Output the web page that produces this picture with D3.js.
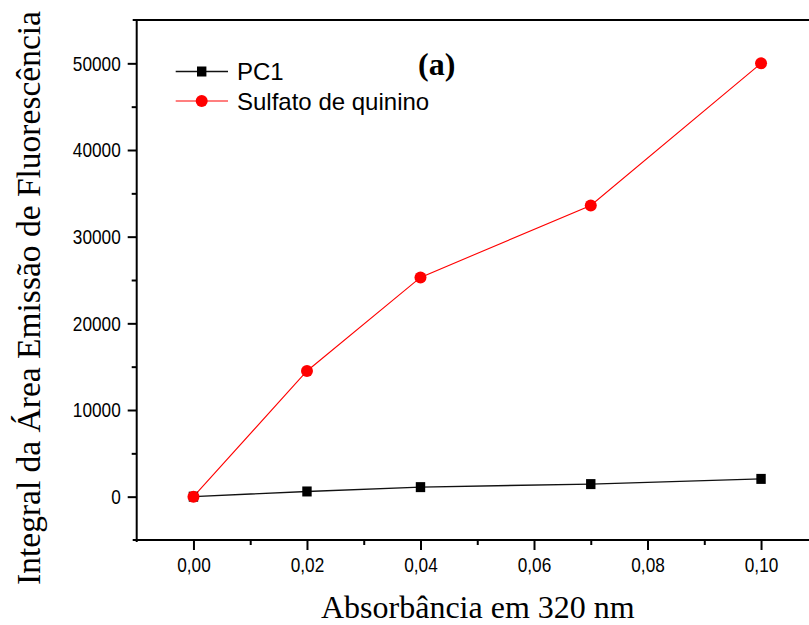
<!DOCTYPE html>
<html>
<head>
<meta charset="utf-8">
<script src="https://cdn.jsdelivr.net/npm/d3@7"></script>
<style>
  html, body { margin: 0; padding: 0; background: #fff; }
  svg { display: block; }
</style>
</head>
<body>
<svg id="chart" width="809" height="625"></svg>
<script>
// ---- data ----
const absorbance = [0, 0.02, 0.04, 0.07, 0.10];
const pc1 = [0, 600, 1100, 1450, 2050];
const sulfato = [0, 14500, 25300, 33600, 50000];
const seriesNames = ["PC1", "Sulfato de quinino"];
const xTicks = [0, 0.02, 0.04, 0.06, 0.08, 0.10];
const xMinorTicks = [0.01, 0.03, 0.05, 0.07, 0.09];
const yTicks = [0, 10000, 20000, 30000, 40000, 50000];
const yMinorTicks = [5000, 15000, 25000, 35000, 45000];
const xTitle = "Absorbância em 320 nm";
const yTitle = "Integral da Área Emissão de Fluorescência";
const panelLabel = "(a)";

// ---- layout ----
const svg = d3.select("#chart");
const pLeft = 136.7, pRight = 817.8, pTop = 20, pBottom = 540;
const x = d3.scaleLinear().domain([-0.01, 0.11]).range([pLeft, pRight]);
const y = d3.scaleLinear().domain([-5000, 55000]).range([pBottom, pTop]);
const sans = "'Liberation Sans', Arial, sans-serif";
const serif = "'Liberation Serif', 'Times New Roman', serif";
const squeeze = 0.82; // tick labels appear horizontally condensed

// axes
const fmtX = v => d3.format(".2f")(v).replace(".", ",");
const xAxis = d3.axisBottom(x).tickValues(xTicks).tickFormat(fmtX).tickSize(10).tickPadding(7);
const xMinor = d3.axisBottom(x).tickValues(xMinorTicks).tickFormat("").tickSize(5);
const yAxis = d3.axisLeft(y).tickValues(yTicks).tickFormat(d3.format("d")).tickSize(9).tickPadding(7);
const yMinor = d3.axisLeft(y).tickValues(yMinorTicks).tickFormat("").tickSize(5);

function styleAxis(g) {
  g.select(".domain").remove();
  g.selectAll(".tick line").attr("stroke", "#000").attr("stroke-width", 2);
  g.selectAll(".tick text").attr("fill", "#000").style("font-family", sans).style("font-size", "21px")
    .attr("transform", `scale(${squeeze},1)`);
}
svg.append("g").attr("transform", `translate(0,${pBottom})`).call(xAxis).call(styleAxis);
svg.append("g").attr("transform", `translate(0,${pBottom})`).call(xMinor).call(styleAxis);
const gy = svg.append("g").attr("transform", `translate(${pLeft},0)`).call(yAxis).call(styleAxis);
gy.selectAll(".tick text").attr("x", -16 / squeeze);
svg.append("g").attr("transform", `translate(${pLeft},0)`).call(yMinor).call(styleAxis);

// frame lines
svg.append("line").attr("x1", pLeft - 4).attr("x2", 809).attr("y1", pBottom).attr("y2", pBottom)
  .attr("stroke", "#000").attr("stroke-width", 2);
svg.append("line").attr("x1", pLeft - 4).attr("x2", 809).attr("y1", pTop).attr("y2", pTop)
  .attr("stroke", "#000").attr("stroke-width", 2);
svg.append("line").attr("x1", pLeft).attr("x2", pLeft).attr("y1", pTop - 1).attr("y2", pBottom + 2)
  .attr("stroke", "#000").attr("stroke-width", 2);

// series
const pc1Data = absorbance.map((a, i) => [a, pc1[i]]);
const sulfData = absorbance.map((a, i) => [a, sulfato[i]]);
const line = d3.line().x(d => x(d[0])).y(d => y(d[1]));

svg.append("path").datum(pc1Data).attr("d", line).attr("fill", "none")
  .attr("stroke", "#111").attr("stroke-width", 1.4);
svg.append("path").datum(sulfData).attr("d", line).attr("fill", "none")
  .attr("stroke", "#ff0000").attr("stroke-width", 1.1);

svg.append("g").selectAll("rect").data(pc1Data).join("rect")
  .attr("x", d => x(d[0]) - 4.7).attr("y", d => y(d[1]) - 5)
  .attr("width", 9.4).attr("height", 10).attr("fill", "#000");
svg.append("g").selectAll("circle").data(sulfData).join("circle")
  .attr("cx", d => x(d[0])).attr("cy", d => y(d[1])).attr("r", 6).attr("fill", "#ff0000");

// legend
const legend = svg.append("g");
const legY = [71.5, 101];
legend.append("line").attr("x1", 175.7).attr("x2", 228).attr("y1", legY[0]).attr("y2", legY[0])
  .attr("stroke", "#111").attr("stroke-width", 1.4);
legend.append("rect").attr("x", 201.7 - 4.7).attr("y", legY[0] - 5).attr("width", 9.4).attr("height", 10).attr("fill", "#000");
legend.append("line").attr("x1", 175.7).attr("x2", 228).attr("y1", legY[1]).attr("y2", legY[1])
  .attr("stroke", "#ff0000").attr("stroke-width", 1.1);
legend.append("circle").attr("cx", 201.7).attr("cy", legY[1]).attr("r", 6).attr("fill", "#ff0000");
legend.selectAll("text").data(seriesNames).join("text")
  .attr("x", 237).attr("y", (d, i) => legY[i] + 8.5)
  .style("font-family", sans).style("font-size", "24px").attr("fill", "#000")
  .text(d => d);

// panel label
svg.append("text").attr("x", 418).attr("y", 75)
  .style("font-family", serif).style("font-size", "32px").style("font-weight", "bold")
  .text(panelLabel);

// titles
svg.append("text").attr("x", (pLeft + 809) / 2 + 5).attr("y", 618).attr("text-anchor", "middle")
  .style("font-family", serif).style("font-size", "32px").text(xTitle);
svg.append("text").attr("transform", "translate(40,298) rotate(-90)").attr("text-anchor", "middle")
  .style("font-family", serif).style("font-size", "33.5px").text(yTitle);
</script>
</body>
</html>
